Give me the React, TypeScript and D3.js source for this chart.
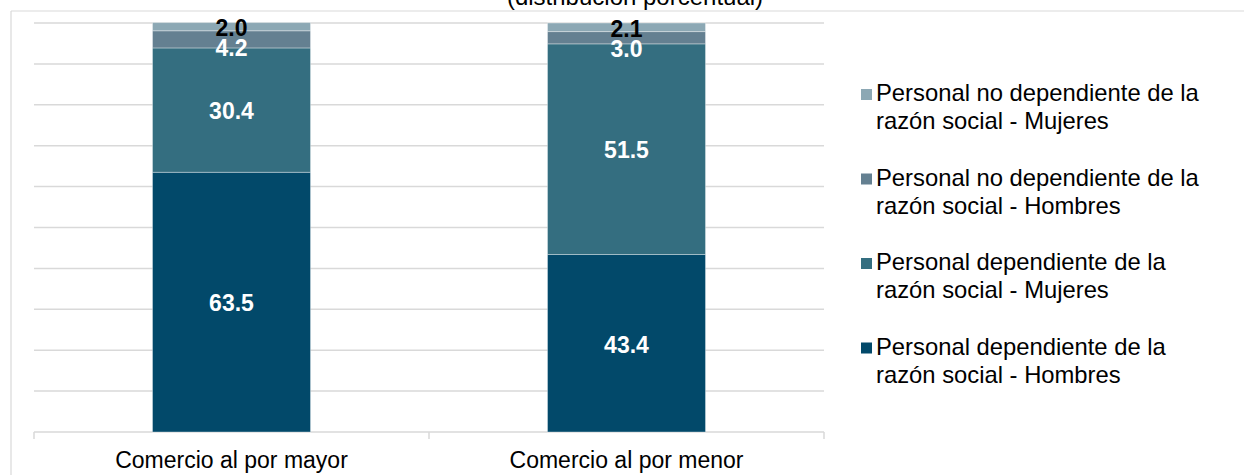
import React from "react";
import * as d3 from "d3";

const categories = ["Comercio al por mayor", "Comercio al por menor"];
const seriesNames = [
  "Personal dependiente de la razón social - Hombres",
  "Personal dependiente de la razón social - Mujeres",
  "Personal no dependiente de la razón social - Hombres",
  "Personal no dependiente de la razón social - Mujeres",
];
const depHombres = [63.5, 43.4];
const depMujeres = [30.4, 51.5];
const noDepHombres = [4.2, 3.0];
const noDepMujeres = [2.0, 2.1];
const legendLines = [
  ["Personal no dependiente de la", "razón social - Mujeres"],
  ["Personal no dependiente de la", "razón social - Hombres"],
  ["Personal dependiente de la", "razón social - Mujeres"],
  ["Personal dependiente de la", "razón social - Hombres"],
];
const colors = ["#02496a", "#346e80", "#648091", "#8ca8b4"];
const labelColors = ["#ffffff", "#ffffff", "#ffffff", "#000000"];
const title = "(distribución porcentual)";

const W = 1244;
const H = 475;
const FONT = "'Liberation Sans', Arial, sans-serif";

export default function App() {
  const seriesValues = [depHombres, depMujeres, noDepHombres, noDepMujeres];
  const rows = categories.map((c, i) => {
    const r: any = { cat: c };
    seriesNames.forEach((s, j) => (r[s] = seriesValues[j][i]));
    return r;
  });
  const stack = d3.stack<any>().keys(seriesNames)(rows);

  const x0 = 34, x1 = 824, yTop = 23, yBot = 432;
  const x = d3.scaleBand().domain(categories).range([x0, x1]).paddingInner(0.6).paddingOuter(0.3);
  const band = d3.scaleBand().domain(categories).range([x0, x1]);
  const y = d3.scaleLinear().domain([0, 100]).range([yBot, yTop]);
  const ticks = d3.range(10, 101, 10);

  const labels: any[] = [];
  categories.forEach((c, ci) => {
    let prevY = -Infinity;
    for (let s = stack.length - 1; s >= 0; s--) {
      const d = stack[s][ci];
      const cy = (y(d[0]) + y(d[1])) / 2 + 1;
      const ly = Math.max(cy, prevY + 20);
      prevY = ly;
      labels.push({ x: (x(c) as number) + x.bandwidth() / 2, y: ly, v: d[1] - d[0], s });
    }
  });

  return (
    <svg width={W} height={H} style={{ display: "block", position: "absolute", left: 0, top: 0 }} fontFamily={FONT}>
      <rect x={0} y={0} width={W} height={H} fill="#fff" />
      <line x1={11} y1={11} x2={W} y2={11} stroke="#d9d9d9" strokeWidth={1.2} />
      <line x1={11} y1={11} x2={11} y2={H} stroke="#d9d9d9" strokeWidth={1.2} />
      <text x={635} y={5} textAnchor="middle" fontSize={24} fill="#000">{title}</text>

      {ticks.map((t) => (
        <line key={t} x1={x0} x2={x1} y1={y(t)} y2={y(t)} stroke="#d9d9d9" strokeWidth={1.5} />
      ))}
      <line x1={x0} x2={x1} y1={yBot} y2={yBot} stroke="#d9d9d9" strokeWidth={1.5} />
      {[x0, (band(categories[1]) as number), x1].map((tx, i) => (
        <line key={i} x1={tx} x2={tx} y1={yBot} y2={yBot + 7} stroke="#d9d9d9" strokeWidth={1.5} />
      ))}

      {stack.map((ser, si) =>
        ser.map((d, ci) => (
          <rect
            key={si + "-" + ci}
            x={x(categories[ci])}
            width={x.bandwidth()}
            y={y(d[1])}
            height={y(d[0]) - y(d[1])}
            fill={colors[si]}
            stroke="#ffffff"
            strokeOpacity={0.35}
            strokeWidth={1}
          />
        ))
      )}

      {labels.map((l, i) => (
        <text key={i} x={l.x} y={l.y} dy="0.36em" textAnchor="middle" fontSize={23} fontWeight="bold" fill={labelColors[l.s]}>
          {l.v.toFixed(1)}
        </text>
      ))}

      {categories.map((c) => (
        <text key={c} x={(band(c) as number) + band.bandwidth() / 2} y={468} textAnchor="middle" fontSize={23} fill="#000">
          {c}
        </text>
      ))}

      {legendLines.map((lines, i) => {
        const by = 101 + i * 84.5;
        return (
          <g key={i}>
            <rect x={861} y={by - 12} width={11} height={11} fill={colors[3 - i]} />
            <text x={876} y={by} fontSize={23.8} fill="#000">{lines[0]}</text>
            <text x={876} y={by + 28} fontSize={23.8} fill="#000">{lines[1]}</text>
          </g>
        );
      })}
    </svg>
  );
}
